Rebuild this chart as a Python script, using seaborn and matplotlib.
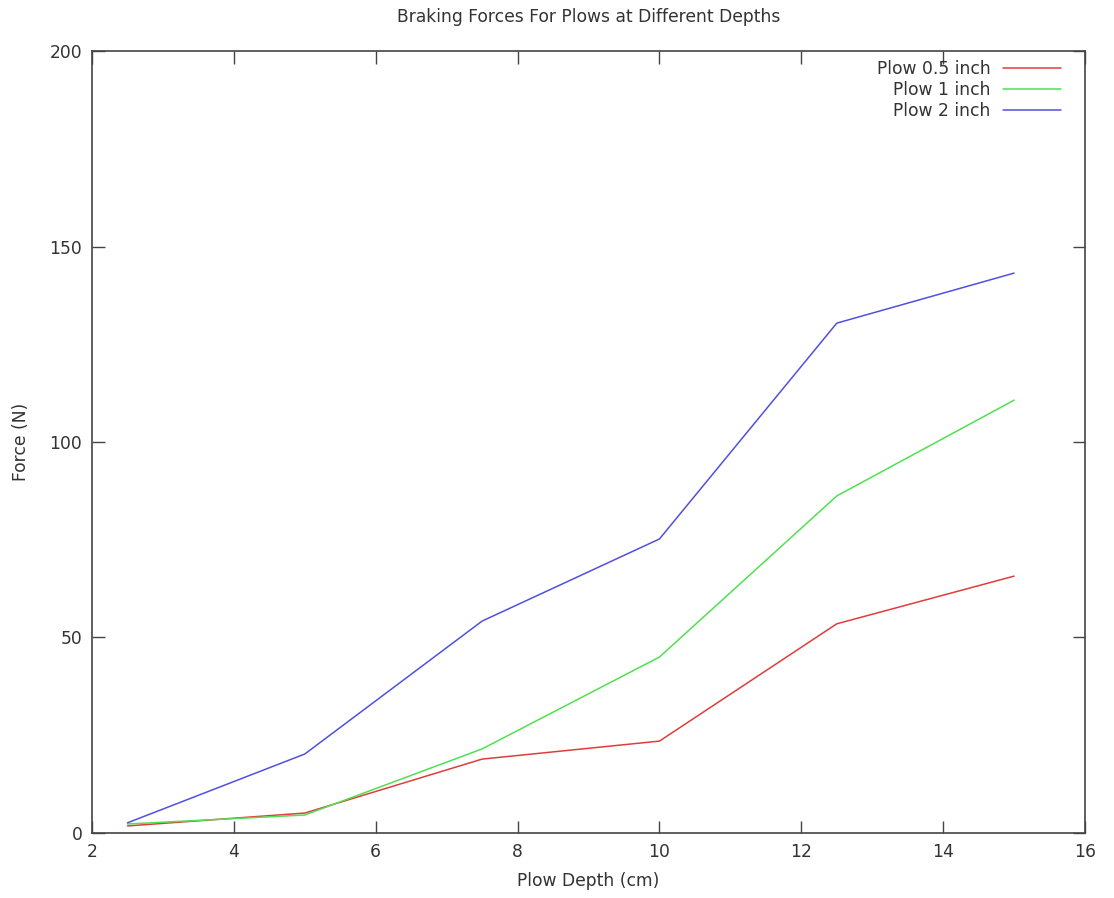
import matplotlib
matplotlib.use('Agg')
import matplotlib.pyplot as plt
import seaborn as sns
import pandas as pd

depth = [2.5, 5, 7.5, 10, 12.5, 15]
plow_05 = [1.8, 5.1, 18.9, 23.5, 53.5, 65.7]
plow_1 = [2.3, 4.6, 21.5, 45.0, 86.2, 110.7]
plow_2 = [2.6, 20.2, 54.2, 75.2, 130.4, 143.2]
labels = ['Plow 0.5 inch', 'Plow 1 inch', 'Plow 2 inch']
colors = ['#e03c3c', '#50e050', '#5050e0']

df = pd.concat([
    pd.DataFrame({'depth': depth, 'force': vals, 'plow': lab})
    for vals, lab in zip([plow_05, plow_1, plow_2], labels)
])

sns.set_style('white')
plt.rcParams['font.family'] = ['DejaVu Sans']
FS = 12.3

fig = plt.figure(figsize=(11.14, 8.98), dpi=100)
ax = fig.add_axes([0.0826, 0.0724, 0.8914, 0.8708])
sns.lineplot(data=df, x='depth', y='force', hue='plow', palette=colors,
             linewidth=1.1, ax=ax)

ax.set_xlim(2, 16)
ax.set_ylim(0, 200)
ax.set_xticks(range(2, 17, 2))
ax.set_yticks(range(0, 201, 50))
ax.tick_params(direction='in', length=9, width=1, color='#444444',
               bottom=True, left=True, top=True, right=True,
               labelsize=FS, labelcolor='#333333', pad=7)
for s in ax.spines.values():
    s.set_color('#444444')
    s.set_linewidth(1.2)
ax.set_xlabel('Plow Depth (cm)', fontsize=FS, color='#333333', labelpad=8)
ax.set_ylabel('Force (N)', fontsize=FS, color='#333333', labelpad=14)
ax.set_title('Braking Forces For Plows at Different Depths', fontsize=FS,
             color='#333333', pad=21)

handles, labs = ax.get_legend_handles_labels()
ax.legend(handles, labs, loc='upper right', bbox_to_anchor=(0.976, 0.988),
          frameon=False, markerfirst=False, fontsize=FS, handlelength=3.4,
          labelspacing=0.17, borderaxespad=0, borderpad=0,
          handletextpad=0.75, labelcolor='#333333')

fig.savefig('out.png', dpi=100)
